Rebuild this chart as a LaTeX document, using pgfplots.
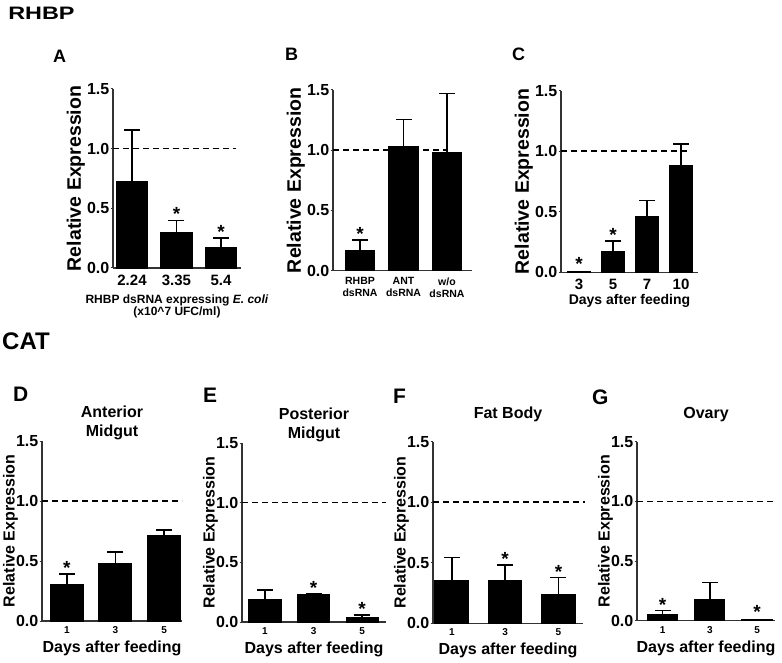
\documentclass[border=0pt]{standalone}
\usepackage{pgfplots}
\pgfplotsset{compat=1.18}
\usepackage{fontspec}
\setmainfont{Liberation Sans}
\newcommand{\fs}[1]{\fontsize{#1}{#1}\selectfont}
\pgfplotsset{
  panel/.style={
    scale only axis, anchor=south west,
    axis lines*=left, ymin=0, ymax=1.5,
    ytick={0,0.5,1,1.5}, yticklabels={0.0,0.5,1.0,1.5},
    xtick={1,2,3},
    axis line style={line width=1.2pt, black!80, -},
    tick align=outside, major tick length=2.5pt,
    ytick style={line width=1pt, black!80},
    xtick style={draw=none},
    /pgf/number format/assume math mode=true,
    yticklabel style={font=\bfseries\fs{16}, inner sep=1pt},
    xticklabel style={font=\bfseries\fs{15}, inner sep=4pt, align=center},
    ylabel={Relative Expression},
    ylabel style={font=\bfseries\fs{19.5}, inner sep=1pt},
    xlabel style={font=\bfseries\fs{15}, inner sep=1pt, align=center},
    title style={font=\bfseries\fontsize{16}{19}\selectfont, at={(0.5,1)}, anchor=north, yshift=29pt, inner sep=0pt, align=center},
    clip=false,
  },
  bot/.style={xticklabel style={font=\bfseries\fs{10}, inner sep=3pt},
    ylabel style={font=\bfseries\fs{16}}, ylabel shift=-4pt,
    xlabel={Days after feeding}, xlabel style={font=\bfseries\fs{16}, yshift=-3pt}},
  bars/.style={ybar, bar width=#1, fill=black, draw=black, line width=1.5pt,
    error bars/y dir=plus, error bars/y explicit,
    error bars/error mark=none,
    error bars/error bar style={line width=1.5pt, black}},
  caps/.style={only marks, mark=-, mark size=8pt, black, mark options={line width=1.5pt}, forget plot},
  refline/.style={sharp plot, black, line width=1.6pt, dash pattern=on 6pt off 4pt, forget plot},
}
\tikzset{star/.style={font=\bfseries\fs{19}, anchor=base, yshift=-0.5pt, inner sep=0pt}}
\begin{document}
\begin{tikzpicture}[x=1pt,y=1pt]
\path[use as bounding box] (0,0) rectangle (782,662);
\node[anchor=north west, inner sep=0pt, font=\bfseries\fs{18}, xscale=1.3] at (8,655) {RHBP};
\node[anchor=north west, inner sep=0pt, font=\bfseries\fs{24}] at (2,329) {CAT};
\node[anchor=north west, inner sep=0pt, font=\bfseries\fs{18}] at (53,612) {A};
\node[anchor=north west, inner sep=0pt, font=\bfseries\fs{18}] at (285,614) {B};
\node[anchor=north west, inner sep=0pt, font=\bfseries\fs{18}] at (512,614) {C};
\node[anchor=north west, inner sep=0pt, font=\bfseries\fs{21}] at (13,275) {D};
\node[anchor=north west, inner sep=0pt, font=\bfseries\fs{21}] at (203,274) {E};
\node[anchor=north west, inner sep=0pt, font=\bfseries\fs{21}] at (393,273) {F};
\node[anchor=north west, inner sep=0pt, font=\bfseries\fs{21}] at (592,272) {G};

% Panel A
\begin{axis}[panel, at={(113pt,394pt)}, width=128pt, height=179pt, xmin=0.573, xmax=3.45,
  xticklabels={2.24,3.35,5.4},
  xlabel={RHBP dsRNA expressing \textit{E. coli}\\(x10\textasciicircum 7 UFC/ml)},
  xlabel style={font=\bfseries\fs{12}, yshift=-4pt}]
\addplot[refline] coordinates {(0.573,1) (3.33,1)};
\addplot[bars=0.70] coordinates {(1,0.72) +- (0,0.437) (2,0.293) +- (0,0.107) (3,0.167) +- (0,0.083)};
\addplot[caps] coordinates {(1,1.157) (2,0.40) (3,0.25)};
\node[star] at (axis cs:2,0.40) {*};
\node[star] at (axis cs:3,0.25) {*};
\end{axis}

% Panel B
\begin{axis}[panel, at={(333pt,391.3pt)}, width=139pt, height=180.7pt, xmin=0.379, xmax=3.575,
  xticklabels={{RHBP\\dsRNA},{ANT\\dsRNA},{w/o\\dsRNA}},
  xticklabel style={font=\bfseries\fontsize{10.5}{12}\selectfont}]
\addplot[refline] coordinates {(0.379,1) (3,1)};
\addplot[bars=0.67] coordinates {(1,0.167) +- (0,0.089) (2,1.03) +- (0,0.226) (3,0.983) +- (0,0.487)};
\addplot[caps] coordinates {(1,0.256) (2,1.256) (3,1.47)};
\node[star] at (axis cs:1,0.256) {*};
\end{axis}

% Panel C
\begin{axis}[panel, at={(561pt,389.7pt)}, width=137pt, height=181.6pt, xmin=0.47, xmax=4.5,
  xtick={1,2,3,4}, xticklabels={3,5,7,10},
  xlabel={Days after feeding}, xlabel style={font=\bfseries\fs{14}}]
\addplot[refline] coordinates {(0.47,1) (4.26,1)};
\addplot[bars=0.67] coordinates {(1,0.005) +- (0,0) (2,0.17) +- (0,0.09) (3,0.457) +- (0,0.138) (4,0.878) +- (0,0.18)};
\addplot[caps] coordinates {(2,0.26) (3,0.595) (4,1.058)};
\node[star] at (axis cs:1,0.02) {*};
\node[star] at (axis cs:2,0.26) {*};
\end{axis}

% Panel D
\begin{axis}[panel, bot, at={(42pt,41pt)}, width=140pt, height=180pt, xmin=0.487, xmax=3.37,
  xticklabels={1,3,5}, title={Anterior\\Midgut}]
\addplot[refline] coordinates {(0.487,1) (3.37,1)};
\addplot[bars=0.67] coordinates {(1,0.306) +- (0,0.084) (2,0.475) +- (0,0.1) (3,0.711) +- (0,0.047)};
\addplot[caps] coordinates {(1,0.39) (2,0.575) (3,0.758)};
\node[star] at (axis cs:1,0.39) {*};
\end{axis}

% Panel E
\begin{axis}[panel, bot, at={(242pt,40pt)}, width=144pt, height=179pt, xmin=0.528, xmax=3.49,
  xticklabels={1,3,5}, title={Posterior\\Midgut}]
\addplot[refline] coordinates {(0.528,1) (3.49,1)};
\addplot[bars=0.65] coordinates {(1,0.184) +- (0,0.084) (2,0.232) +- (0,0.005) (3,0.036) +- (0,0.024)};
\addplot[caps] coordinates {(1,0.268) (2,0.237) (3,0.06)};
\node[star] at (axis cs:2,0.237) {*};
\node[star] at (axis cs:3,0.06) {*};
\end{axis}

% Panel F
\begin{axis}[panel, bot, at={(433pt,38.7pt)}, width=150pt, height=181.6pt, xmin=0.648, xmax=3.46,
  xticklabels={1,3,5}, title={Fat Body}]
\addplot[refline] coordinates {(0.648,1) (3.5,1)};
\addplot[bars=0.62] coordinates {(1,0.35) +- (0,0.195) (2,0.35) +- (0,0.13) (3,0.234) +- (0,0.143)};
\addplot[caps] coordinates {(1,0.545) (2,0.48) (3,0.377)};
\node[star] at (axis cs:2,0.48) {*};
\node[star] at (axis cs:3,0.377) {*};
\end{axis}

% Panel G
\begin{axis}[panel, bot, at={(637pt,41.3pt)}, width=138pt, height=179pt, xmin=0.457, xmax=3.38,
  xticklabels={1,3,5}, title={Ovary}]
\addplot[refline] coordinates {(0.457,1) (3.38,1)};
\addplot[bars=0.63] coordinates {(1,0.048) +- (0,0.036) (2,0.173) +- (0,0.147) (3,0.008) +- (0,0)};
\addplot[caps] coordinates {(1,0.084) (2,0.32)};
\node[star] at (axis cs:1,0.084) {*};
\node[star] at (axis cs:3,0.02) {*};
\end{axis}
\end{tikzpicture}
\end{document}
